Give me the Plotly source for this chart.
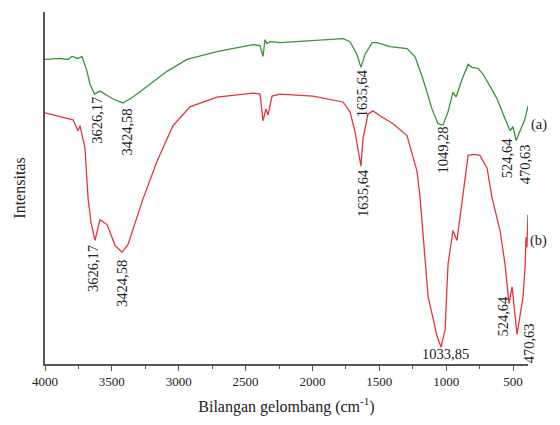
import plotly.graph_objects as go

# Spectrum (a) - green
wn_a = [4000, 3888, 3830, 3798, 3753, 3723, 3686, 3663, 3630, 3589, 3540, 3491, 3417, 3342,
        3215, 3088, 2938, 2714, 2444, 2392, 2370, 2355, 2340, 2317, 2242, 1996, 1771, 1719,
        1667, 1637, 1607, 1554, 1517, 1420, 1293, 1233, 1173, 1106, 1061, 1040, 1023, 986,
        956, 949, 926, 881, 836, 807, 762, 724, 672, 619, 575, 522, 500, 477, 447, 410, 388]
int_a = [308, 309, 308, 311, 309, 311, 296, 283, 273, 276, 272, 268, 264, 270,
         283, 296, 308, 316, 323, 322, 311, 328, 324, 326, 325, 327, 329, 326,
         313, 300, 313, 325, 325, 321, 319, 311, 288, 258, 243, 242, 242, 255,
         273, 275, 270, 288, 303, 300, 299, 293, 281, 268, 253, 236, 240, 226, 236, 248, 261]

# Spectrum (b) - red
wn_b = [4000, 3888, 3791, 3753, 3738, 3701, 3678, 3656, 3626, 3589, 3536, 3476, 3424, 3379,
        3312, 3267, 3162, 3043, 2916, 2714, 2444, 2392, 2370, 2347, 2332, 2302, 2242, 1996,
        1771, 1719, 1682, 1637, 1622, 1584, 1547, 1495, 1397, 1293, 1218, 1195, 1135, 1068,
        1038, 1008, 986, 949, 919, 881, 836, 792, 747, 694, 657, 597, 560, 530, 507, 470,
        447, 425, 410, 403, 396, 388]
int_b = [254, 250, 247, 236, 241, 218, 168, 143, 125, 146, 141, 120, 113, 121,
         148, 167, 205, 241, 260, 270, 274, 273, 246, 258, 252, 271, 273, 271,
         265, 255, 235, 200, 228, 253, 256, 251, 243, 231, 195, 168, 68, 28,
         17, 35, 101, 135, 125, 165, 211, 212, 211, 198, 168, 135, 101, 61, 78, 30,
         51, 68, 98, 128, 118, 151]

# Peak labels: text, wavenumber position, intensity position, angle
labels_a = ["3626,17", "3424,58", "1635,64", "1049,28", "524,64", "470,63"]
lab_a_x = [3611, 3387, 1629, 1023, 545, 410]
lab_a_y = [246, 235, 274, 216, 208, 202]

labels_b = ["3626,17", "3424,58", "1635,64", "1033,85", "524,64", "470,63"]
lab_b_x = [3641, 3424, 1622, 1008, 582, 410]
lab_b_y = [96, 81, 173, 10, 48, 21]
lab_b_angle = [-90, -90, -90, 0, -90, -90]
lab_b_xshift = [0, 0, 0, 0, 0, 4]

FONT = "Liberation Serif"
GREEN = "#33963a"
RED = "#e3363c"

fig = go.Figure()
fig.add_trace(go.Scatter(x=wn_a, y=int_a, mode="lines", line=dict(color=GREEN, width=1.3),
                         showlegend=False, hoverinfo="skip"))
fig.add_trace(go.Scatter(x=wn_b, y=int_b, mode="lines", line=dict(color=RED, width=1.3),
                         showlegend=False, hoverinfo="skip"))

for t, x, y in zip(labels_a, lab_a_x, lab_a_y):
    fig.add_annotation(x=x, y=y, text=t, textangle=-90, showarrow=False,
                       font=dict(family=FONT, size=14.5, color="#222"))
for t, x, y, a, xs in zip(labels_b, lab_b_x, lab_b_y, lab_b_angle, lab_b_xshift):
    fig.add_annotation(x=x, y=y, text=t, textangle=a, showarrow=False, xshift=xs,
                       font=dict(family=FONT, size=14.5, color="#222"))

fig.add_annotation(xref="paper", yref="paper", x=1.043, y=0.711, text="(a)", showarrow=False,
                   font=dict(family=FONT, size=14.5, color="#222"))
fig.add_annotation(xref="paper", yref="paper", x=1.043, y=0.351, text="(b)", showarrow=False,
                   font=dict(family=FONT, size=14.5, color="#222"))

fig.update_layout(
    width=560, height=425,
    margin=dict(l=45, r=32, t=12, b=57),
    paper_bgcolor="white", plot_bgcolor="white",
    font=dict(family=FONT, color="#222"),
    xaxis=dict(range=[4000, 388], autorange=False, showgrid=False, zeroline=False,
               showline=True, linecolor="#555", linewidth=1.5,
               ticks="outside", ticklen=5, tickwidth=1.3, tickcolor="#555",
               tickvals=[4000, 3500, 3000, 2500, 2000, 1500, 1000, 500],
               tickfont=dict(family=FONT, size=13, color="#222"),
               minor=dict(ticks="outside", ticklen=3, tickwidth=1.2, tickcolor="#555",
                          tickvals=[3750, 3250, 2750, 2250, 1750, 1250, 750], showgrid=False),
               title=dict(text="Bilangan gelombang (cm<sup>-1</sup>)", standoff=12,
                          font=dict(family=FONT, size=16, color="#222"))),
    yaxis=dict(range=[0, 356], autorange=False, showgrid=False, zeroline=False,
               showline=True, linecolor="#555", linewidth=1.5,
               ticks="", showticklabels=False,
               title=dict(text="Intensitas", standoff=14,
                          font=dict(family=FONT, size=16, color="#222"))),
)

fig.write_html("out.html")
